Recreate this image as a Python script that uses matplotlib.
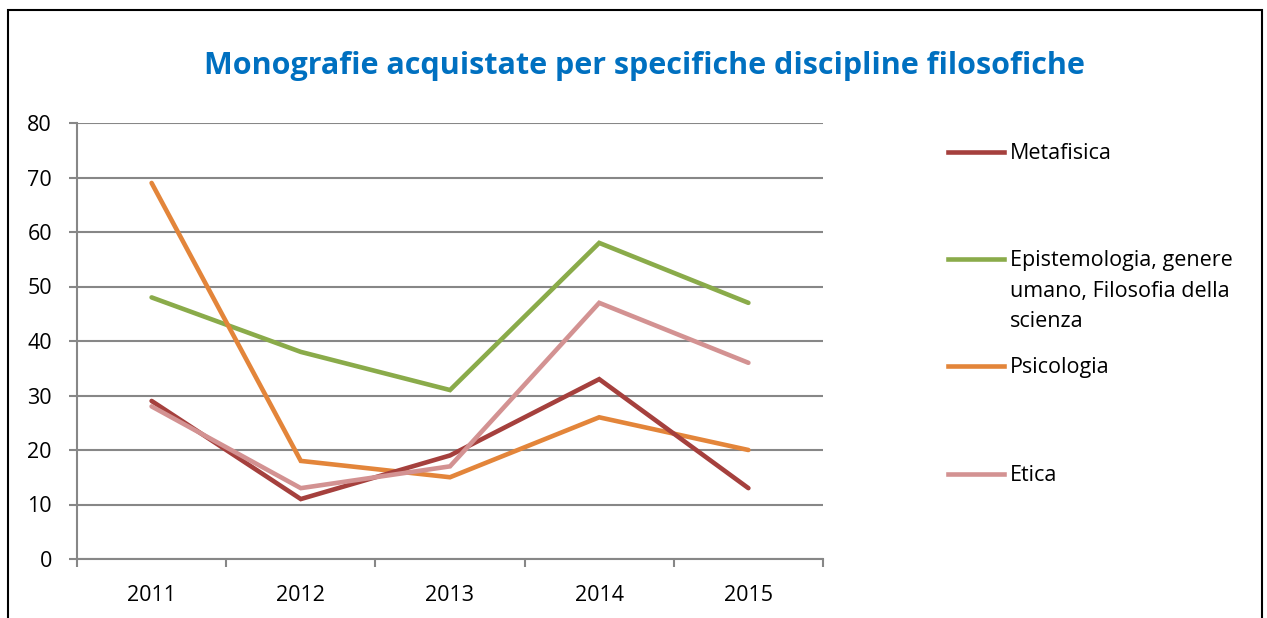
import matplotlib
matplotlib.use("Agg")
import matplotlib.pyplot as plt
from matplotlib.lines import Line2D
from matplotlib.patches import Rectangle

# data
years = ["2011", "2012", "2013", "2014", "2015"]
metafisica = [29, 11, 19, 33, 13]
epistemologia = [48, 38, 31, 58, 47]
psicologia = [69, 18, 15, 26, 20]
etica = [28, 13, 17, 47, 36]

series_names = ["Metafisica",
                "Epistemologia, genere\numano, Filosofia della\nscienza",
                "Psicologia",
                "Etica"]
colors = ["#A5403D", "#8AAB4A", "#E3853A", "#D39292"]

plt.rcParams['font.family'] = ['Open Sans', 'DejaVu Sans']

fig = plt.figure(figsize=(12.67, 6.18), dpi=100)
ax = fig.add_axes([77 / 1267, 1 - 559 / 618, (823 - 77) / 1267, (559 - 123) / 618])

x = list(range(len(years)))
all_series = [metafisica, epistemologia, psicologia, etica]
# draw in an order so Metafisica/Etica overlap like the original
for vals, c, z in zip(all_series, colors, [3, 2, 2, 4]):
    ax.plot(x, vals, color=c, lw=3.3, solid_capstyle='round', solid_joinstyle='miter', zorder=z)

ax.set_xlim(-0.5, 4.5)
ax.set_ylim(0, 80)
ax.set_yticks(range(0, 81, 10))
ax.yaxis.grid(True, color='#878787', lw=1.5)
ax.set_axisbelow(True)

ax.set_xticks(x)
ax.set_xticklabels(years)
ax.set_xticks([i - 0.5 for i in range(6)], minor=True)
ax.tick_params(axis='x', which='major', length=0, pad=19, labelsize=15.5)
ax.tick_params(axis='x', which='minor', length=6, width=1.5, color='#878787')
ax.tick_params(axis='y', length=6, width=1.5, color='#878787', labelsize=15.5, pad=12)

for s in ['top', 'right']:
    ax.spines[s].set_visible(False)
for s in ['left', 'bottom']:
    ax.spines[s].set_color('#878787')
    ax.spines[s].set_linewidth(1.5)

fig.text(644 / 1267, 1 - 66 / 618, "Monografie acquistate per specifiche discipline filosofiche",
         ha='center', va='center', fontsize=22, fontweight='bold', color='#0070C0')

# legend, built by hand to match the Excel layout
leg_y = [152, 259, 366, 474]
for name, c, yy in zip(series_names, colors, leg_y):
    fy = 1 - yy / 618
    fig.add_artist(Line2D([948 / 1267, 1004 / 1267], [fy, fy], color=c, lw=3.3,
                          transform=fig.transFigure))
    fig.text(1010 / 1267, 1 - (yy - 9) / 618, name, ha='left', va='top', fontsize=15.5,
             linespacing=1.6)

# outer frame
fig.add_artist(Rectangle((8 / 1267, -0.05), (1262 - 8) / 1267, 1.05 - 10 / 618,
                         fill=False, ec='black', lw=1.5, transform=fig.transFigure))

fig.savefig("out.png", dpi=100)
